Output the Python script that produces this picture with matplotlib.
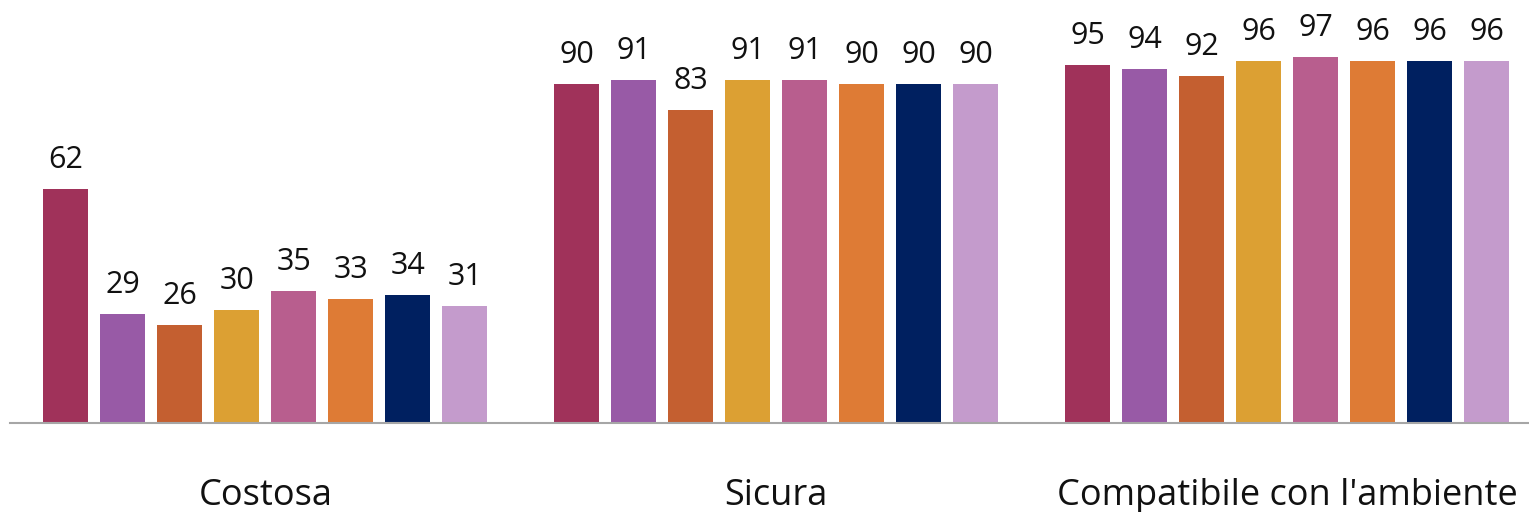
import matplotlib
matplotlib.use("Agg")
import matplotlib.pyplot as plt
import numpy as np

categories = ["Costosa", "Sicura", "Compatibile con l'ambiente"]
series_values = [
    [62, 90, 95],
    [29, 91, 94],
    [26, 83, 92],
    [30, 91, 96],
    [35, 91, 97],
    [33, 90, 96],
    [34, 90, 96],
    [31, 90, 96],
]
colors = ["#A0325A", "#985AA6", "#C45F30", "#DCA033", "#B85E8E", "#DE7B35", "#002060", "#C49BCC"]

plt.rcParams['font.family'] = ['Open Sans', 'DejaVu Sans']

W, H = 1529, 512
fig = plt.figure(figsize=(W/100, H/100), dpi=100)
ax = fig.add_axes([0, 89/H, 1, 1 - 89/H])

x = np.arange(len(categories))
spacing = 57/511
width = 45/511
n = len(series_values)
for i, vals in enumerate(series_values):
    pos = x + (i - (n-1)/2) * spacing
    bars = ax.bar(pos, vals, width=width, color=colors[i], edgecolor='none')
    for p, v in zip(pos, vals):
        ax.annotate(str(v), (p, v), xytext=(0, 15), textcoords='offset points',
                    ha='center', va='baseline', fontsize=22, color='#111111')

ax.set_xlim(-265.5/511, 2 + (W-1287)/511)
ax.set_ylim(0, 423/3.77)
ax.axis('off')
xmin_frac = 10/W
ax.axhline(0, xmin=xmin_frac, xmax=1, color='#A6A6A6', lw=1.5, clip_on=False)

for xi, c in zip(x, categories):
    ax.annotate(c, (xi, 0), xytext=(0, -82/100*72), textcoords='offset points',
                ha='center', va='baseline', fontsize=26, color='#111111')

fig.savefig("out.png", dpi=100)
